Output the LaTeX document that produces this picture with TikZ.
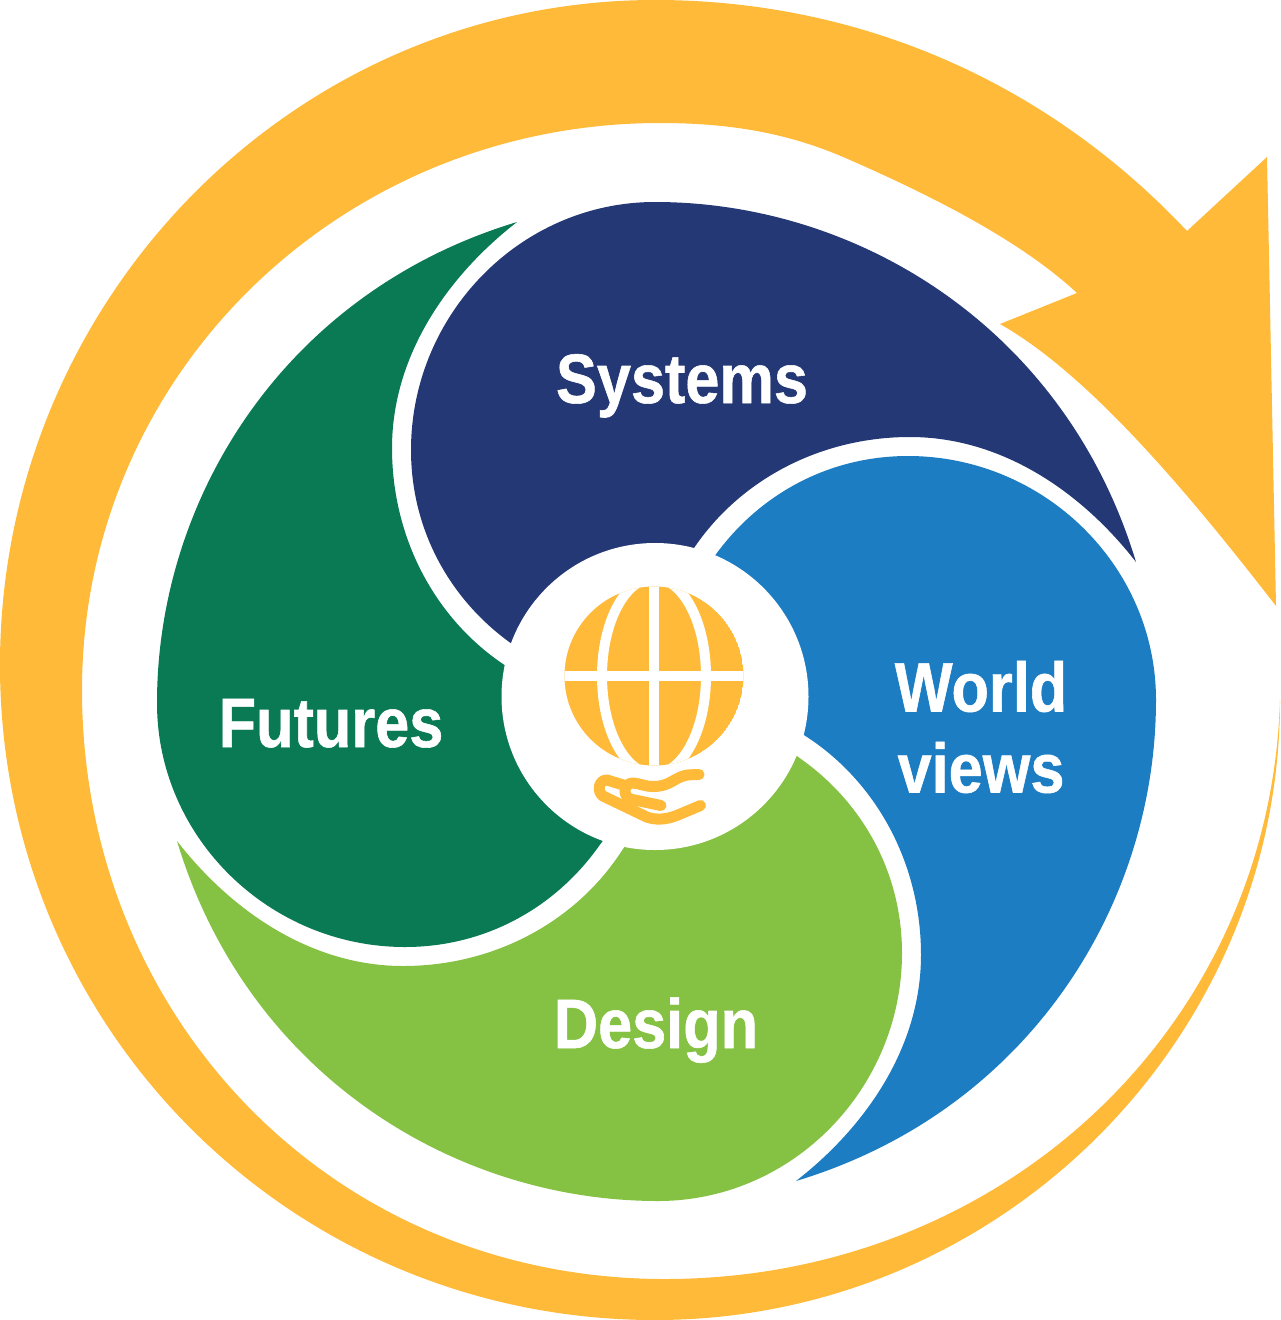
\documentclass[tikz,border=0pt]{standalone}
\usepackage{fontspec}
\setmainfont[FakeStretch=0.875,BoldFeatures={FakeBold=0.8}]{Liberation Sans}
\definecolor{sun}{HTML}{FEBA38}
\definecolor{navy}{HTML}{233874}
\definecolor{sky}{HTML}{1D7DC2}
\definecolor{leaf}{HTML}{85C143}
\definecolor{pine}{HTML}{0A7A55}
\newcommand{\petalshape}{(1136,562) .. controls (1066,330) and (860,202) .. (655,202)
  .. controls (520,202) and (411,315) .. (411,450)
  .. controls (411,530) and (450,600) .. (512,644)
  -- (535,661) -- (655,697) -- (684,563) -- (694,548)
  .. controls (740,480) and (820,437) .. (910,437)
  .. controls (1000,437) and (1080,490) .. (1136,562) -- cycle}
\tikzset{lab/.style={font=\bfseries\fontsize{70}{81}\selectfont,text=white,align=center,inner sep=0pt},
 meridian/.style={draw=white,line width=10pt},
 handline/.style={draw=sun,line width=11pt,line cap=round,line join=round}}
\begin{document}
\begin{tikzpicture}[x=1pt,y=-1pt]
\useasboundingbox (0,0) rectangle (1280,1320);
% arrow
\fill[sun] (1187,231) .. controls (1040,75) and (850,0) .. (655,0)
  .. controls (293,0) and (0,300) .. (0,665)
  .. controls (0,1030) and (293,1320) .. (655,1320)
  .. controls (1000,1320) and (1280,1040) .. (1280,700)
  .. controls (1270,1030) and (1000,1279) .. (665,1279)
  .. controls (330,1279) and (82,1015) .. (82,690)
  .. controls (82,375) and (340,123) .. (660,123)
  .. controls (730,123) and (790,133) .. (850,160)
  .. controls (930,195) and (1020,240) .. (1077,293)
  -- (1000,324)
  .. controls (1090,375) and (1190,495) .. (1276,606)
  -- (1267,157) -- cycle;
% petals
\fill[navy] \petalshape;
\begin{scope}[rotate around={-90:(656.5,701.5)}]\fill[sky] \petalshape;\end{scope}
\begin{scope}[rotate around={-180:(656.5,701.5)}]\fill[leaf] \petalshape;\end{scope}
\begin{scope}[rotate around={-270:(656.5,701.5)}]\fill[pine] \petalshape;\end{scope}
% centre
\fill[white] (655,696.5) circle [radius=153.5];
\begin{scope}
\clip (654,676) circle [radius=89.5];
\fill[sun] (654,676) circle [radius=89.5];
\draw[meridian] (654,676) ellipse [x radius=52,y radius=98];
\draw[meridian] (654,570) -- (654,780);
\draw[meridian] (550,676) -- (760,676);
\end{scope}
\draw[handline] (699,774.5) -- (690,774.8) .. controls (675,775.5) and (672,786.5) .. (653,786.5)
  .. controls (645,786.5) and (640,783.5) .. (633,783) .. controls (624,783) and (622,795) .. (630,799) -- (661,805.5);
\draw[handline] (700.5,805.5) -- (676.7,815.5) .. controls (665,820) and (655,820) .. (646.7,817)
  -- (603,796) .. controls (597,792) and (598,780) .. (607,780) -- (626.7,786);
% labels
\node[lab,anchor=base] (systems) at (682,403) {Systems};
\node[lab,text width=260pt] (world) at (981,727) {World\\views};
\node[lab,anchor=base] (design) at (656,1048) {Design};
\node[lab,anchor=base] (futures) at (331,747) {Futures};
\end{tikzpicture}
\end{document}
